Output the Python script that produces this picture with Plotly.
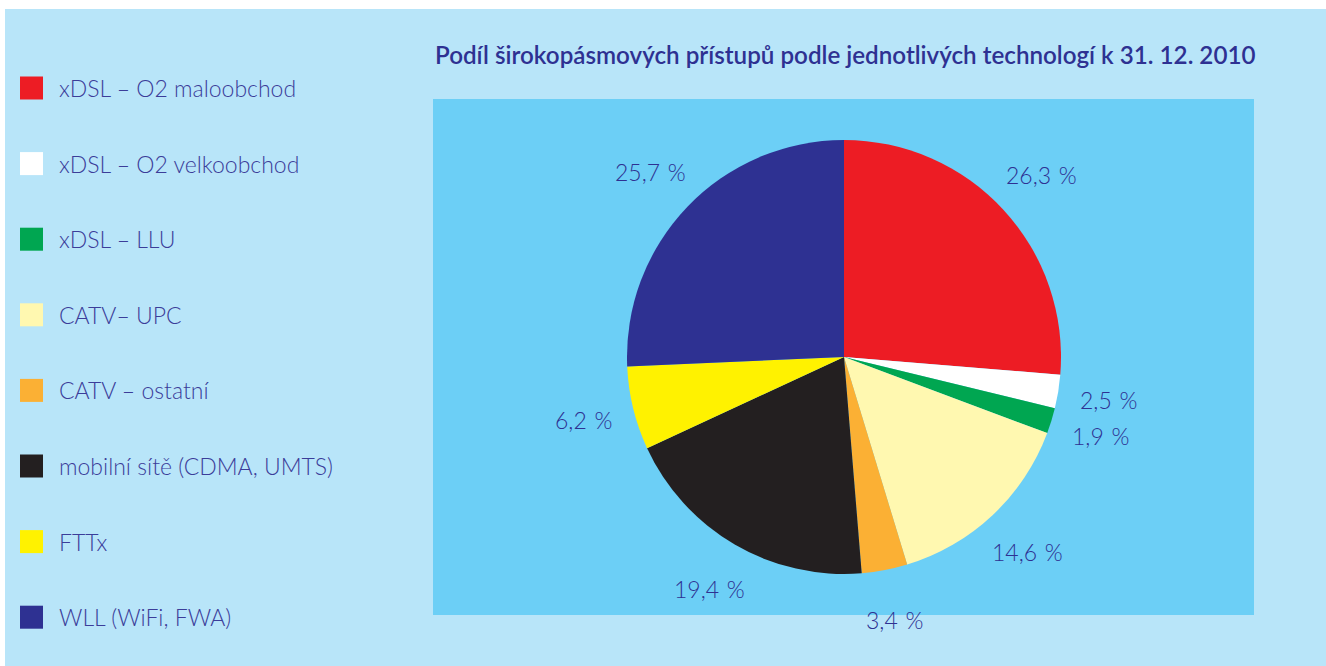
import math
import plotly.graph_objects as go

# ---- data ----
categories = [
    "xDSL – O2 maloobchod",
    "xDSL – O2 velkoobchod",
    "xDSL – LLU",
    "CATV– UPC",
    "CATV – ostatní",
    "mobilní sítě (CDMA, UMTS)",
    "FTTx",
    "WLL (WiFi, FWA)",
]
shares = [26.3, 2.5, 1.9, 14.6, 3.4, 19.4, 6.2, 25.7]
share_labels = ["26,3 %", "2,5 %", "1,9 %", "14,6 %", "3,4 %", "19,4 %", "6,2 %", "25,7 %"]
colors = ["#ed1c24", "#ffffff", "#00a651", "#fff8b0", "#fbb034", "#231f20", "#fff200", "#2e3192"]
title_text = "Podíl širokopásmových přístupů podle jednotlivých technologí k 31. 12. 2010"

# ---- layout constants (pixels, in screen coordinates) ----
W, H = 1326, 666
CX, CY, R = 844, 357, 217
LABEL_K = 1.235
TEXT_COLOR = "#2e3192"
FONT = "Lato"

def px_x(x):
    return x / W

def px_y(y):
    return 1 - y / H

fig = go.Figure()
fig.add_trace(go.Pie(
    labels=categories,
    values=shares,
    sort=False,
    direction="clockwise",
    rotation=0,
    marker=dict(colors=colors, line=dict(width=0)),
    textinfo="none",
    hoverinfo="label+percent",
    showlegend=False,
    domain=dict(x=[px_x(CX - R), px_x(CX + R)], y=[px_y(CY + R), px_y(CY - R)]),
))

shapes = [
    # page background
    dict(type="rect", xref="paper", yref="paper", x0=px_x(5), x1=1, y0=0, y1=px_y(9),
         fillcolor="#b8e5f9", line=dict(width=0), layer="below"),
    # plot box
    dict(type="rect", xref="paper", yref="paper", x0=px_x(433), x1=px_x(1254),
         y0=px_y(615), y1=px_y(99), fillcolor="#6ccff6", line=dict(width=0), layer="below"),
]
annotations = []

# percentage labels placed at slice mid-angles
total = sum(shares)
cum = 0.0
for v, lab in zip(shares, share_labels):
    mid = (cum + v / 2) / total
    cum += v
    ang = math.pi / 2 - 2 * math.pi * mid
    lx = CX + LABEL_K * R * math.cos(ang)
    ly = CY - LABEL_K * R * math.sin(ang)
    annotations.append(dict(x=px_x(lx), y=px_y(ly), xref="paper", yref="paper",
                            text=lab.replace(" ", " \u200a"), showarrow=False,
                            xanchor="center", yanchor="middle",
                            font=dict(family=FONT, size=23, color=TEXT_COLOR, weight=300)))

# manual legend
for i, (cat, col) in enumerate(zip(categories, colors)):
    yc = 88 + 75.6 * i
    shapes.append(dict(type="rect", xref="paper", yref="paper",
                       x0=px_x(20), x1=px_x(43), y0=px_y(yc + 11.5), y1=px_y(yc - 11.5),
                       fillcolor=col, line=dict(width=0)))
    annotations.append(dict(x=px_x(57), y=px_y(yc), xref="paper", yref="paper",
                            text=cat, showarrow=False, xanchor="left", yanchor="middle",
                            font=dict(family=FONT, size=23, color="#3b3d99", weight=300)))

# title
annotations.append(dict(x=px_x(846), y=px_y(55), xref="paper", yref="paper",
                        text=title_text, showarrow=False, xanchor="center", yanchor="middle",
                        font=dict(family=FONT, size=24.2, color=TEXT_COLOR, weight=600)))

fig.update_layout(
    width=W, height=H,
    margin=dict(l=0, r=0, t=0, b=0),
    paper_bgcolor="#ffffff",
    plot_bgcolor="#ffffff",
    shapes=shapes,
    annotations=annotations,
)

fig.write_html(
    "out.html",
    config={"displayModeBar": False},
    post_script="document.body.style.margin='0';document.body.style.overflow='hidden';",
)
